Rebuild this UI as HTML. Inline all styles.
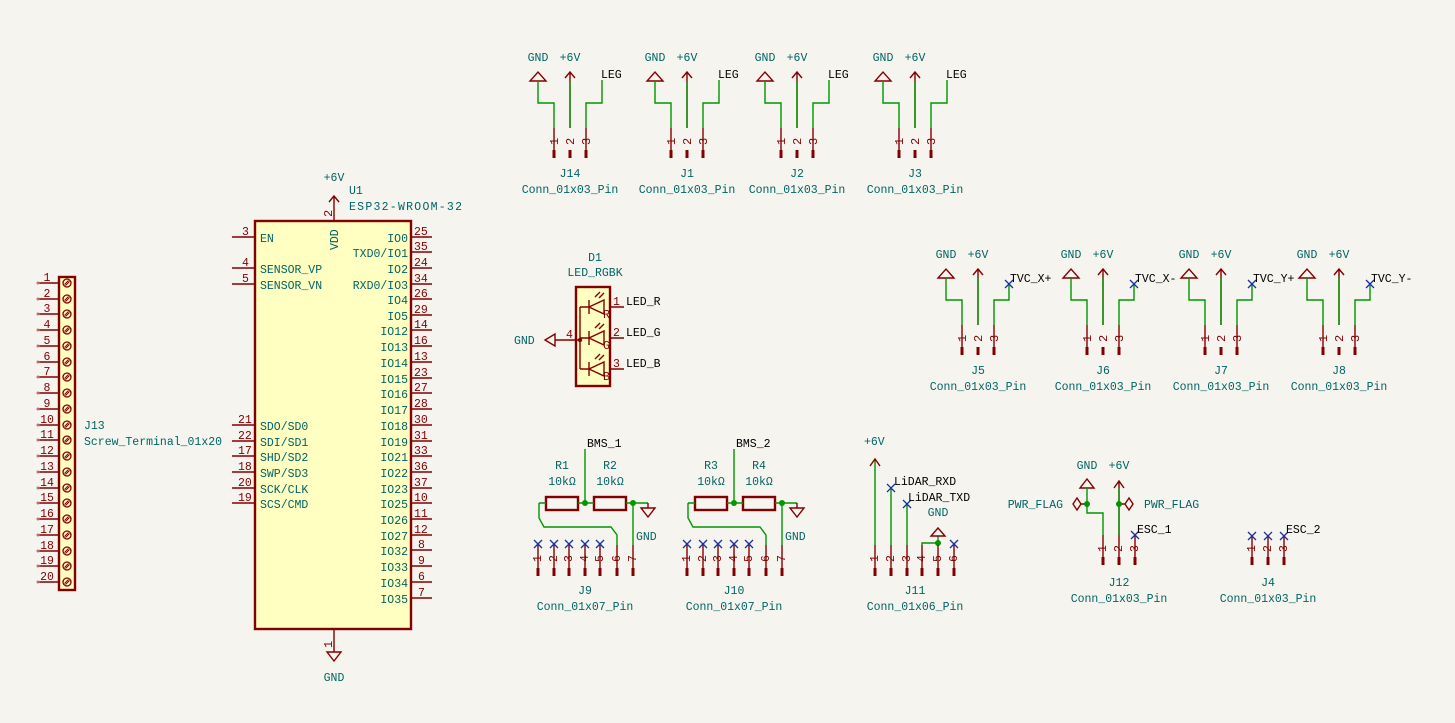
<!DOCTYPE html>
<html><head><meta charset="utf-8"><style>
html,body{margin:0;padding:0;background:#f5f4ef}
svg{display:block}
text{font-family:"Liberation Mono","DejaVu Sans Mono",monospace;font-size:11.5px}
.t{fill:#006464}.k{fill:#000}.r{fill:#840000;font-size:12px}
.p{stroke:#840000;stroke-width:1.4;fill:none}
.w{stroke:#009600;stroke-width:1.4;fill:none}
.x{stroke:#1a30a0;stroke-width:1.3;fill:none}
.b{stroke:#840000;stroke-width:2.4;fill:#ffffc2}
</style></head><body>
<svg width="1455" height="723" viewBox="0 0 1455 723" xmlns="http://www.w3.org/2000/svg">
<defs>
<g id="c3">
<path class="p" d="M-40 81 L-24 81 L-32 72 Z"/>
<path class="p" d="M0 128 V72 M-5 78 L0 72 L5 78"/>
<path class="w" d="M-32 81 V103 H-16 V128 M0 81 V128"/>
<path class="p" d="M-16 128 V158 M16 128 V158"/>
<path stroke="#840000" stroke-width="3" d="M-16 150 V158 M0 150 V158 M16 150 V158"/>
</g>
<g id="pin7">
<path class="p" d="M0 545 V575"/><path stroke="#840000" stroke-width="3" d="M0 568 V576"/>
</g>
<path id="xm" class="x" d="M-4 -4 L4 4 M-4 4 L4 -4"/>
<g id="sc"><circle r="4" fill="none" stroke="#840000" stroke-width="1.3"/><path d="M-2.5 1.5L1.5 -2.5M-1.5 2.5L2.5 -1.5" stroke="#840000" stroke-width="1"/></g>
</defs>

<!-- top row conn3 -->
<g transform="translate(570 0)"><use href="#c3"/><path class="w" d="M32 80 V103 H16 V128"/>
<text class="t" x="-32" y="61" text-anchor="middle">GND</text><text class="t" x="0" y="61" text-anchor="middle">+6V</text><text class="k" x="31" y="78">LEG</text>
<text class="r" transform="translate(-12 145) rotate(-90)">1</text><text class="r" transform="translate(4 145) rotate(-90)">2</text><text class="r" transform="translate(20 145) rotate(-90)">3</text>
<text class="t" x="0" y="177" text-anchor="middle">J14</text><text class="t" x="0" y="193" text-anchor="middle">Conn_01x03_Pin</text></g>
<g transform="translate(687 0)"><use href="#c3"/><path class="w" d="M32 80 V103 H16 V128"/>
<text class="t" x="-32" y="61" text-anchor="middle">GND</text><text class="t" x="0" y="61" text-anchor="middle">+6V</text><text class="k" x="31" y="78">LEG</text>
<text class="r" transform="translate(-12 145) rotate(-90)">1</text><text class="r" transform="translate(4 145) rotate(-90)">2</text><text class="r" transform="translate(20 145) rotate(-90)">3</text>
<text class="t" x="0" y="177" text-anchor="middle">J1</text><text class="t" x="0" y="193" text-anchor="middle">Conn_01x03_Pin</text></g>
<g transform="translate(797 0)"><use href="#c3"/><path class="w" d="M32 80 V103 H16 V128"/>
<text class="t" x="-32" y="61" text-anchor="middle">GND</text><text class="t" x="0" y="61" text-anchor="middle">+6V</text><text class="k" x="31" y="78">LEG</text>
<text class="r" transform="translate(-12 145) rotate(-90)">1</text><text class="r" transform="translate(4 145) rotate(-90)">2</text><text class="r" transform="translate(20 145) rotate(-90)">3</text>
<text class="t" x="0" y="177" text-anchor="middle">J2</text><text class="t" x="0" y="193" text-anchor="middle">Conn_01x03_Pin</text></g>
<g transform="translate(915 0)"><use href="#c3"/><path class="w" d="M32 80 V103 H16 V128"/>
<text class="t" x="-32" y="61" text-anchor="middle">GND</text><text class="t" x="0" y="61" text-anchor="middle">+6V</text><text class="k" x="31" y="78">LEG</text>
<text class="r" transform="translate(-12 145) rotate(-90)">1</text><text class="r" transform="translate(4 145) rotate(-90)">2</text><text class="r" transform="translate(20 145) rotate(-90)">3</text>
<text class="t" x="0" y="177" text-anchor="middle">J3</text><text class="t" x="0" y="193" text-anchor="middle">Conn_01x03_Pin</text></g>

<!-- second row -->
<g transform="translate(978 197)"><use href="#c3"/><path class="w" d="M16 128 V103 H31 V87"/><use href="#xm" x="31" y="87"/>
<text class="t" x="-32" y="61" text-anchor="middle">GND</text><text class="t" x="0" y="61" text-anchor="middle">+6V</text><text class="k" x="32" y="85">TVC_X+</text>
<text class="r" transform="translate(-12 145) rotate(-90)">1</text><text class="r" transform="translate(4 145) rotate(-90)">2</text><text class="r" transform="translate(20 145) rotate(-90)">3</text>
<text class="t" x="0" y="177" text-anchor="middle">J5</text><text class="t" x="0" y="193" text-anchor="middle">Conn_01x03_Pin</text></g>
<g transform="translate(1103 197)"><use href="#c3"/><path class="w" d="M16 128 V103 H31 V87"/><use href="#xm" x="31" y="87"/>
<text class="t" x="-32" y="61" text-anchor="middle">GND</text><text class="t" x="0" y="61" text-anchor="middle">+6V</text><text class="k" x="32" y="85">TVC_X-</text>
<text class="r" transform="translate(-12 145) rotate(-90)">1</text><text class="r" transform="translate(4 145) rotate(-90)">2</text><text class="r" transform="translate(20 145) rotate(-90)">3</text>
<text class="t" x="0" y="177" text-anchor="middle">J6</text><text class="t" x="0" y="193" text-anchor="middle">Conn_01x03_Pin</text></g>
<g transform="translate(1221 197)"><use href="#c3"/><path class="w" d="M16 128 V103 H31 V87"/><use href="#xm" x="31" y="87"/>
<text class="t" x="-32" y="61" text-anchor="middle">GND</text><text class="t" x="0" y="61" text-anchor="middle">+6V</text><text class="k" x="32" y="85">TVC_Y+</text>
<text class="r" transform="translate(-12 145) rotate(-90)">1</text><text class="r" transform="translate(4 145) rotate(-90)">2</text><text class="r" transform="translate(20 145) rotate(-90)">3</text>
<text class="t" x="0" y="177" text-anchor="middle">J7</text><text class="t" x="0" y="193" text-anchor="middle">Conn_01x03_Pin</text></g>
<g transform="translate(1339 197)"><use href="#c3"/><path class="w" d="M16 128 V103 H31 V87"/><use href="#xm" x="31" y="87"/>
<text class="t" x="-32" y="61" text-anchor="middle">GND</text><text class="t" x="0" y="61" text-anchor="middle">+6V</text><text class="k" x="32" y="85">TVC_Y-</text>
<text class="r" transform="translate(-12 145) rotate(-90)">1</text><text class="r" transform="translate(4 145) rotate(-90)">2</text><text class="r" transform="translate(20 145) rotate(-90)">3</text>
<text class="t" x="0" y="177" text-anchor="middle">J8</text><text class="t" x="0" y="193" text-anchor="middle">Conn_01x03_Pin</text></g>

<!-- J13 screw terminal -->
<rect class="b" x="59" y="277" width="16" height="313"/>
<path class="p" d="M38 283H59M38 299H59M38 314H59M38 330H59M38 346H59M38 362H59M38 377H59M38 393H59M38 409H59M38 425H59M38 440H59M38 456H59M38 472H59M38 488H59M38 503H59M38 519H59M38 535H59M38 551H59M38 566H59M38 582H59"/>
<g fill="#c07070"><circle cx="38" cy="283" r="1.5"/><circle cx="38" cy="299" r="1.5"/><circle cx="38" cy="314" r="1.5"/><circle cx="38" cy="330" r="1.5"/><circle cx="38" cy="346" r="1.5"/><circle cx="38" cy="362" r="1.5"/><circle cx="38" cy="377" r="1.5"/><circle cx="38" cy="393" r="1.5"/><circle cx="38" cy="409" r="1.5"/><circle cx="38" cy="425" r="1.5"/><circle cx="38" cy="440" r="1.5"/><circle cx="38" cy="456" r="1.5"/><circle cx="38" cy="472" r="1.5"/><circle cx="38" cy="488" r="1.5"/><circle cx="38" cy="503" r="1.5"/><circle cx="38" cy="519" r="1.5"/><circle cx="38" cy="535" r="1.5"/><circle cx="38" cy="551" r="1.5"/><circle cx="38" cy="566" r="1.5"/><circle cx="38" cy="582" r="1.5"/></g>
<use href="#sc" x="67" y="283"/><use href="#sc" x="67" y="299"/><use href="#sc" x="67" y="314"/><use href="#sc" x="67" y="330"/><use href="#sc" x="67" y="346"/><use href="#sc" x="67" y="362"/><use href="#sc" x="67" y="377"/><use href="#sc" x="67" y="393"/><use href="#sc" x="67" y="409"/><use href="#sc" x="67" y="425"/><use href="#sc" x="67" y="440"/><use href="#sc" x="67" y="456"/><use href="#sc" x="67" y="472"/><use href="#sc" x="67" y="488"/><use href="#sc" x="67" y="503"/><use href="#sc" x="67" y="519"/><use href="#sc" x="67" y="535"/><use href="#sc" x="67" y="551"/><use href="#sc" x="67" y="566"/><use href="#sc" x="67" y="582"/>
<g class="r" text-anchor="middle">
<text x="47" y="281">1</text><text x="47" y="297">2</text><text x="47" y="312">3</text><text x="47" y="328">4</text><text x="47" y="344">5</text><text x="47" y="360">6</text><text x="47" y="375">7</text><text x="47" y="391">8</text><text x="47" y="407">9</text><text x="47" y="423">10</text><text x="47" y="438">11</text><text x="47" y="454">12</text><text x="47" y="470">13</text><text x="47" y="486">14</text><text x="47" y="501">15</text><text x="47" y="517">16</text><text x="47" y="533">17</text><text x="47" y="549">18</text><text x="47" y="564">19</text><text x="47" y="580">20</text>
</g>
<text class="t" x="84" y="429">J13</text><text class="t" x="84" y="445">Screw_Terminal_01x20</text>

<!-- ESP32 -->
<rect class="b" x="255" y="221" width="156" height="408"/>
<path class="p" d="M334 221V196M329 202L334 196L339 202M334 629V652M327 652H341L334 661Z"/>
<text class="t" x="334" y="181" text-anchor="middle">+6V</text>
<text class="t" x="349" y="194">U1</text><text class="t" x="349" y="210" textLength="113">ESP32-WROOM-32</text>
<text class="r" transform="translate(332 217) rotate(-90)">2</text>
<text class="t" transform="translate(338 250) rotate(-90)">VDD</text>
<text class="r" transform="translate(332 648) rotate(-90)">1</text>
<text class="t" x="334" y="681" text-anchor="middle">GND</text>
<path class="p" d="M232 237H255M232 268H255M232 284H255M232 425H255M232 441H255M232 456H255M232 472H255M232 488H255M232 503H255"/>
<g class="r"><text x="242" y="235">3</text><text x="242" y="266">4</text><text x="242" y="282">5</text><text x="238" y="423">21</text><text x="238" y="439">22</text><text x="238" y="454">17</text><text x="238" y="470">18</text><text x="238" y="486">20</text><text x="238" y="501">19</text></g>
<g class="t"><text x="260" y="242">EN</text><text x="260" y="273">SENSOR_VP</text><text x="260" y="289">SENSOR_VN</text><text x="260" y="430">SDO/SD0</text><text x="260" y="446">SDI/SD1</text><text x="260" y="461">SHD/SD2</text><text x="260" y="477">SWP/SD3</text><text x="260" y="493">SCK/CLK</text><text x="260" y="508">SCS/CMD</text></g>
<path class="p" d="M411 237H432M411 252H432M411 268H432M411 284H432M411 299H432M411 315H432M411 330H432M411 346H432M411 362H432M411 378H432M411 393H432M411 409H432M411 425H432M411 441H432M411 456H432M411 472H432M411 488H432M411 503H432M411 519H432M411 535H432M411 550H432M411 566H432M411 582H432M411 598H432"/>
<g class="r"><text x="414" y="235">25</text><text x="414" y="250">35</text><text x="414" y="266">24</text><text x="414" y="282">34</text><text x="414" y="297">26</text><text x="414" y="313">29</text><text x="414" y="328">14</text><text x="414" y="344">16</text><text x="414" y="360">13</text><text x="414" y="376">23</text><text x="414" y="391">27</text><text x="414" y="407">28</text><text x="414" y="423">30</text><text x="414" y="439">31</text><text x="414" y="454">33</text><text x="414" y="470">36</text><text x="414" y="486">37</text><text x="414" y="501">10</text><text x="414" y="517">11</text><text x="414" y="533">12</text><text x="418" y="548">8</text><text x="418" y="564">9</text><text x="418" y="580">6</text><text x="418" y="596">7</text></g>
<g class="t" text-anchor="end"><text x="408" y="242">IO0</text><text x="408" y="257">TXD0/IO1</text><text x="408" y="273">IO2</text><text x="408" y="289">RXD0/IO3</text><text x="408" y="304">IO4</text><text x="408" y="320">IO5</text><text x="408" y="335">IO12</text><text x="408" y="351">IO13</text><text x="408" y="367">IO14</text><text x="408" y="383">IO15</text><text x="408" y="398">IO16</text><text x="408" y="414">IO17</text><text x="408" y="430">IO18</text><text x="408" y="446">IO19</text><text x="408" y="461">IO21</text><text x="408" y="477">IO22</text><text x="408" y="493">IO23</text><text x="408" y="508">IO25</text><text x="408" y="524">IO26</text><text x="408" y="540">IO27</text><text x="408" y="555">IO32</text><text x="408" y="571">IO33</text><text x="408" y="587">IO34</text><text x="408" y="603">IO35</text></g>

<!-- LED -->
<text class="t" x="595" y="261" text-anchor="middle">D1</text><text class="t" x="595" y="276" text-anchor="middle">LED_RGBK</text>
<rect class="b" x="576" y="287" width="34" height="99"/>
<path class="p" d="M610 307H624M610 338H624M610 369H624M555 340H580M580 307V369M580 307H590M580 338H590M580 369H590"/>
<path class="p" d="M555 334V346L545 340Z"/>
<g class="p"><path d="M589 300V314M589 307L604 300V314Z"/><path d="M589 331V345M589 338L604 331V345Z"/><path d="M589 362V376M589 369L604 362V376Z"/>
<path d="M595 297L600 292M599 298L604 293M595 328L600 323M599 329L604 324M595 359L600 354M599 360L604 355"/></g>
<circle cx="580" cy="340" r="2.2" fill="#840000"/>
<g class="r"><text x="613" y="305">1</text><text x="613" y="336">2</text><text x="613" y="367">3</text><text x="566" y="338">4</text>
<text x="603" y="318" font-size="9">R</text><text x="603" y="349" font-size="9">G</text><text x="603" y="380" font-size="9">B</text></g>
<g class="k"><text x="626" y="305">LED_R</text><text x="626" y="336">LED_G</text><text x="626" y="367">LED_B</text></g>
<text class="t" x="514" y="344">GND</text>

<!-- J9 / J10 -->
<g id="bms">
<rect x="546" y="497" width="32" height="13" class="b" style="fill:none"/>
<rect x="594" y="497" width="32" height="13" class="b" style="fill:none"/>
<path class="w" d="M539 503H546M578 503H594M626 503H648M585 503V449M633 503V545M539 503V518L544 527H611L617 535V545"/>
<path class="p" d="M641 508H655L648 517Z M648 503V508"/>
<circle cx="585" cy="503" r="3" fill="#009600"/><circle cx="633" cy="503" r="3" fill="#009600"/>
<use href="#pin7" x="538"/><use href="#pin7" x="554"/><use href="#pin7" x="569"/><use href="#pin7" x="585"/><use href="#pin7" x="600"/><use href="#pin7" x="617"/><use href="#pin7" x="633"/>
<use href="#xm" x="538" y="544"/><use href="#xm" x="554" y="544"/><use href="#xm" x="569" y="544"/><use href="#xm" x="585" y="544"/><use href="#xm" x="600" y="544"/>
</g>
<use href="#bms" x="149"/>
<g class="r">
<text transform="translate(541 562) rotate(-90)">1</text><text transform="translate(557 562) rotate(-90)">2</text><text transform="translate(572 562) rotate(-90)">3</text><text transform="translate(588 562) rotate(-90)">4</text><text transform="translate(603 562) rotate(-90)">5</text><text transform="translate(620 562) rotate(-90)">6</text><text transform="translate(636 562) rotate(-90)">7</text>
<text transform="translate(690 562) rotate(-90)">1</text><text transform="translate(706 562) rotate(-90)">2</text><text transform="translate(721 562) rotate(-90)">3</text><text transform="translate(737 562) rotate(-90)">4</text><text transform="translate(752 562) rotate(-90)">5</text><text transform="translate(769 562) rotate(-90)">6</text><text transform="translate(785 562) rotate(-90)">7</text>
</g>
<text class="k" x="587" y="447">BMS_1</text><text class="k" x="736" y="447">BMS_2</text>
<g class="t" text-anchor="middle">
<text x="562" y="469">R1</text><text x="562" y="485">10kΩ</text><text x="610" y="469">R2</text><text x="610" y="485">10kΩ</text>
<text x="711" y="469">R3</text><text x="711" y="485">10kΩ</text><text x="759" y="469">R4</text><text x="759" y="485">10kΩ</text>
<text x="585" y="594">J9</text><text x="585" y="610">Conn_01x07_Pin</text>
<text x="734" y="594">J10</text><text x="734" y="610">Conn_01x07_Pin</text>
</g>
<text class="t" x="636" y="540">GND</text><text class="t" x="785" y="540">GND</text>

<!-- J11 -->
<path class="w" d="M875 460V545M891 488V545M907 504V545M922 545V543H938M938 536V545"/>
<path class="p" d="M870 466L875 459L880 466M931 536H945L938 528Z"/>
<circle cx="938" cy="543" r="3" fill="#009600"/>
<use href="#pin7" x="875"/><use href="#pin7" x="891"/><use href="#pin7" x="907"/><use href="#pin7" x="922"/><use href="#pin7" x="938"/><use href="#pin7" x="954"/>
<use href="#xm" x="891" y="488"/><use href="#xm" x="907" y="504"/><use href="#xm" x="954" y="544"/>
<g class="r"><text transform="translate(878 562) rotate(-90)">1</text><text transform="translate(894 562) rotate(-90)">2</text><text transform="translate(910 562) rotate(-90)">3</text><text transform="translate(925 562) rotate(-90)">4</text><text transform="translate(941 562) rotate(-90)">5</text><text transform="translate(957 562) rotate(-90)">6</text></g>
<text class="t" x="864" y="445">+6V</text>
<text class="k" x="894" y="485">LiDAR_RXD</text><text class="k" x="908" y="501">LiDAR_TXD</text>
<text class="t" x="938" y="516" text-anchor="middle">GND</text>
<text class="t" x="915" y="594" text-anchor="middle">J11</text><text class="t" x="915" y="610" text-anchor="middle">Conn_01x06_Pin</text>

<!-- J12 -->
<path class="p" d="M1080 488H1094L1087 479Z M1119 482V535 M1114 488L1119 481L1124 488 M1087 504H1081M1081 504L1077 498L1073 504L1077 510Z M1119 504H1125M1125 504L1129 498L1133 504L1129 510Z"/>
<path class="w" d="M1087 488V513H1103V535M1119 488V535"/>
<circle cx="1087" cy="504" r="3" fill="#009600"/><circle cx="1119" cy="504" r="3" fill="#009600"/>
<path class="p" d="M1103 535V565M1119 535V565M1135 535V565"/>
<path stroke="#840000" stroke-width="3" d="M1103 557V565M1119 557V565M1135 557V565"/>
<use href="#xm" x="1135" y="535"/>
<g class="r"><text transform="translate(1106 552) rotate(-90)">1</text><text transform="translate(1122 552) rotate(-90)">2</text><text transform="translate(1138 552) rotate(-90)">3</text></g>
<text class="t" x="1087" y="469" text-anchor="middle">GND</text><text class="t" x="1119" y="469" text-anchor="middle">+6V</text>
<text class="t" x="1063" y="508" text-anchor="end">PWR_FLAG</text><text class="t" x="1144" y="508">PWR_FLAG</text>
<text class="k" x="1137" y="533">ESC_1</text>
<text class="t" x="1119" y="602" text-anchor="middle" dy="-16">J12</text><text class="t" x="1119" y="602" text-anchor="middle">Conn_01x03_Pin</text>

<!-- J4 -->
<path class="p" d="M1252 535V565M1268 535V565M1284 535V565"/>
<path stroke="#840000" stroke-width="3" d="M1252 557V565M1268 557V565M1284 557V565"/>
<use href="#xm" x="1252" y="536"/><use href="#xm" x="1268" y="536"/><use href="#xm" x="1284" y="536"/>
<g class="r"><text transform="translate(1255 552) rotate(-90)">1</text><text transform="translate(1271 552) rotate(-90)">2</text><text transform="translate(1287 552) rotate(-90)">3</text></g>
<text class="k" x="1286" y="533">ESC_2</text>
<text class="t" x="1268" y="586" text-anchor="middle">J4</text><text class="t" x="1268" y="602" text-anchor="middle">Conn_01x03_Pin</text>
</svg>
</body></html>
